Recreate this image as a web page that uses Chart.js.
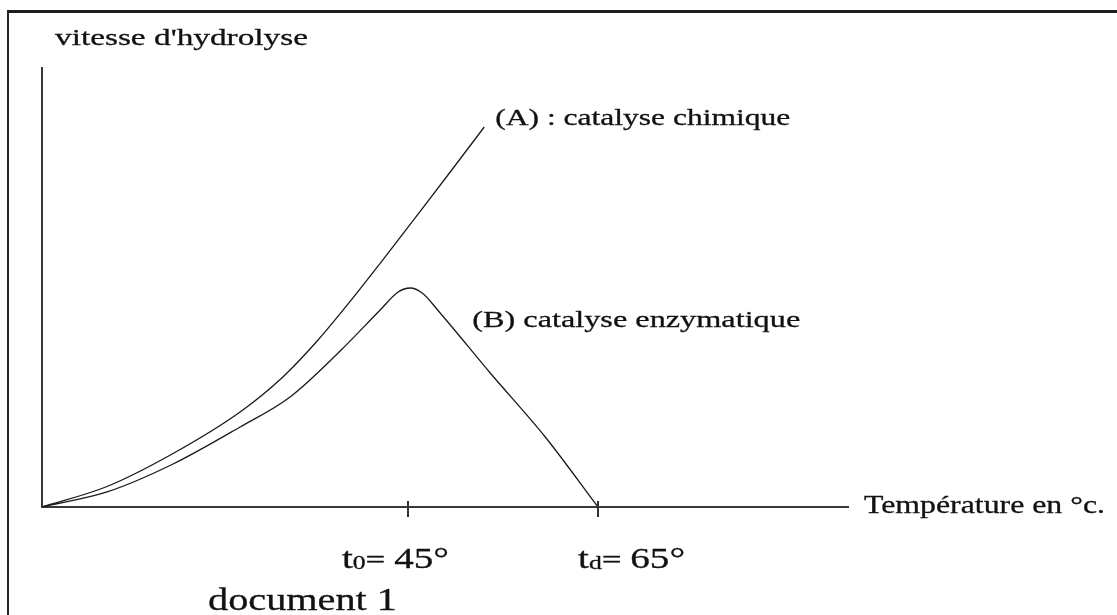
<!DOCTYPE html>
<html>
<head>
<meta charset="utf-8">
<script src="https://cdn.jsdelivr.net/npm/chart.js@4.4.1/dist/chart.umd.min.js"></script>
<style>
html, body { margin: 0; padding: 0; background: #fff; overflow: hidden; }
#frame { position: absolute; left: 7px; top: 10px; width: 1200px; height: 700px;
         border-top: 3px solid #1e1e1e; border-left: 2px solid #262626; }
#wrap { position: absolute; left: 0; top: 0; width: 1117px; height: 615px; }
</style>
</head>
<body>
<div id="frame"></div>
<div id="wrap"><canvas id="myChart"></canvas></div>
<script>
// courbe (A) : catalyse chimique
var tempA = [6.5, 13.34, 20.29, 27.34, 31.87, 35.45, 38.92, 42.08, 46.29, 49.45, 53.03];
var vitesseA = [0, 4.67, 12.19, 21.64, 29.68, 37.81, 46.83, 55.51, 67.36, 76.31, 86.56];

// courbe (B) : catalyse enzymatique
var tempB = [6.5, 13.34, 20.29, 27.34, 32.6, 37.87, 42.08, 43.97, 45.24, 46.5, 48.39, 53.66, 59.45, 65.0];
var vitesseB = [0, 3.42, 9.79, 18.22, 25.06, 35.54, 44.87, 48.97, 49.89, 48.75, 44.19, 30.52, 15.95, 0];

// graduations de l'axe des températures
var tickValues = [45, 65];
var tickNames = ['0', 'd'];

var serif = '"Liberation Serif"';
var ink = '#121212';

function pts(xs, ys) {
    return xs.map(function (x, i) { return {x: x, y: ys[i]}; });
}

// draws text pieces side by side, stretched to the given width
function drawText(ctx, parts, left, baseline, width) {
    var total = 0;
    parts.forEach(function (p) {
        ctx.font = p.size + 'px ' + serif;
        p.w = ctx.measureText(p.t).width;
        total += p.w;
    });
    ctx.save();
    ctx.translate(left, baseline);
    ctx.scale(width / total, 1);
    ctx.fillStyle = ink;
    ctx.strokeStyle = ink;
    ctx.lineWidth = 0.3;
    ctx.textBaseline = 'alphabetic';
    var x = 0;
    parts.forEach(function (p) {
        ctx.font = p.size + 'px ' + serif;
        ctx.fillText(p.t, x, p.dy || 0);
        ctx.strokeText(p.t, x, p.dy || 0);
        x += p.w;
    });
    ctx.restore();
}

var annotations = {
    id: 'annotations',
    afterDraw: function (chart) {
        var ctx = chart.ctx;
        var xs = chart.scales.x, ys = chart.scales.y;
        var bottom = chart.chartArea.bottom;

        // petites graduations qui traversent l'axe
        ctx.save();
        ctx.strokeStyle = '#333';
        ctx.lineWidth = 2;
        tickValues.forEach(function (v) {
            var px = Math.round(xs.getPixelForValue(v));
            ctx.beginPath();
            ctx.moveTo(px, bottom - 6);
            ctx.lineTo(px, bottom + 10);
            ctx.stroke();
        });
        ctx.restore();

        // étiquettes t0 / td
        var t0 = xs.getPixelForValue(tickValues[0]);
        var td = xs.getPixelForValue(tickValues[1]);
        drawText(ctx, [{t: 't', size: 29}, {t: tickNames[0], size: 19, dy: 1}, {t: '= ', size: 26}, {t: tickValues[0] + '°', size: 29}], t0 - 66, 568, 107);
        drawText(ctx, [{t: 't', size: 29}, {t: tickNames[1], size: 19, dy: 1}, {t: '= ', size: 26}, {t: tickValues[1] + '°', size: 29}], td - 20, 568, 107);

        // titres des axes
        drawText(ctx, [{t: "vitesse d'hydrolyse", size: 24}], 55, 45, 253);
        drawText(ctx, [{t: 'Température en °c.', size: 25}], 864, 513, 241);

        // noms des courbes, placés près des courbes
        var endA = {x: xs.getPixelForValue(tempA[tempA.length - 1]), y: ys.getPixelForValue(vitesseA[vitesseA.length - 1])};
        drawText(ctx, [{t: '(A) : catalyse chimique', size: 24}], endA.x + 11, endA.y - 2, 295);
        var peakB = {x: xs.getPixelForValue(45.24), y: ys.getPixelForValue(49.89)};
        drawText(ctx, [{t: '(B) catalyse enzymatique', size: 24}], peakB.x + 62, peakB.y + 39, 328);

        drawText(ctx, [{t: 'document 1', size: 32}], 208, 610, 189);
    }
};

var ctx = document.getElementById('myChart').getContext('2d');
var myChart = new Chart(ctx, {
    type: 'line',
    data: {
        datasets: [{
            label: '(A) : catalyse chimique',
            data: pts(tempA, vitesseA),
            borderColor: '#1a1a1a',
            borderWidth: 1.3,
            pointRadius: 0,
            cubicInterpolationMode: 'monotone',
            fill: false
        }, {
            label: '(B) catalyse enzymatique',
            data: pts(tempB, vitesseB),
            borderColor: '#1a1a1a',
            borderWidth: 1.3,
            pointRadius: 0,
            cubicInterpolationMode: 'monotone',
            fill: false
        }]
    },
    options: {
        responsive: true,
        maintainAspectRatio: false,
        animation: false,
        layout: {padding: {left: 42, top: 68, right: 269, bottom: 108}},
        plugins: {legend: {display: false}, tooltip: {enabled: false}},
        scales: {
            x: {
                type: 'linear', min: 6.5, max: 91.3,
                grid: {display: false, drawTicks: false},
                ticks: {display: false},
                border: {display: true, color: '#383838', width: 2}
            },
            y: {
                type: 'linear', min: 0, max: 100,
                grid: {display: false, drawTicks: false},
                ticks: {display: false},
                border: {display: true, color: '#383838', width: 2}
            }
        }
    },
    plugins: [annotations]
});
</script>
</body>
</html>
